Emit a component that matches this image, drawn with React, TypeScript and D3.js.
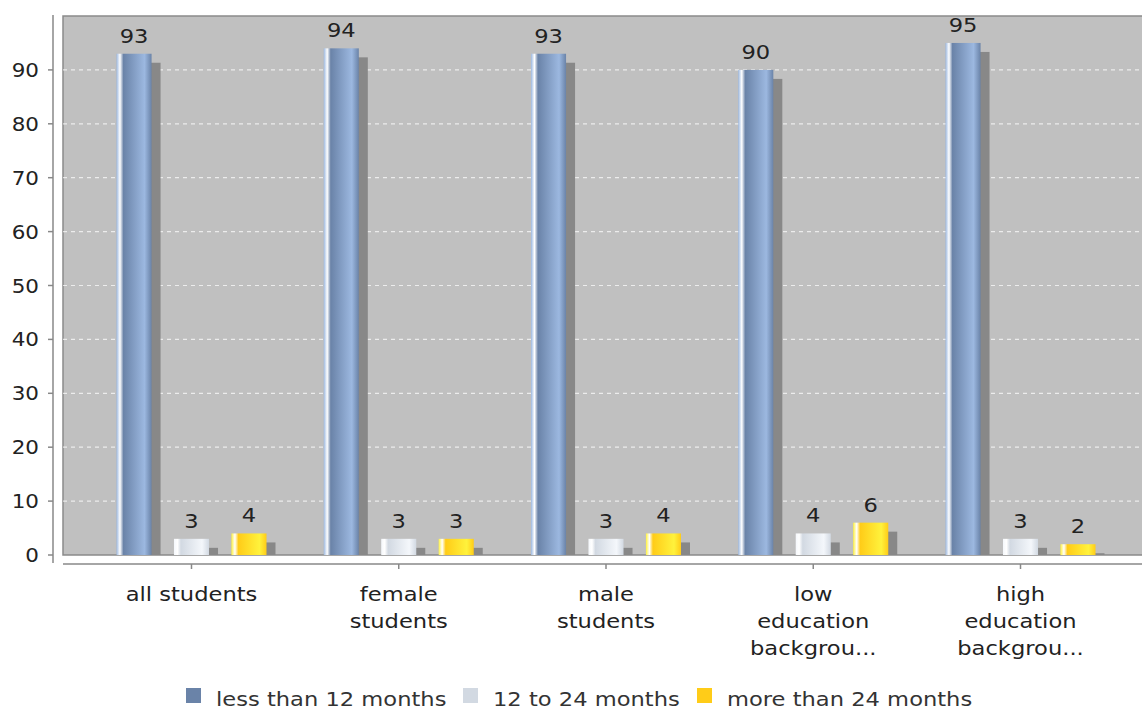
import React from "react";
import * as d3 from "d3";

const categories = ["all students", "female students", "male students", "low education background", "high education background"];
const categoryLines = [["all students"], ["female", "students"], ["male", "students"], ["low", "education", "backgrou..."], ["high", "education", "backgrou..."]];
const seriesNames = ["less than 12 months", "12 to 24 months", "more than 24 months"];
const lessThan12 = [93, 94, 93, 90, 95];
const from12to24 = [3, 3, 3, 4, 3];
const moreThan24 = [4, 3, 4, 6, 2];
const seriesValues = [lessThan12, from12to24, moreThan24];
const yTicks = [0, 10, 20, 30, 40, 50, 60, 70, 80, 90];

const baseColors = ["#6a83a8", "#d2d9e2", "#ffcc18"];
const brightColors = ["#9cb8e0", "#f4f7fb", "#fff23c"];

const W = 1142;
const H = 711;
const plotLeft = 63;
const plotTop = 16;
const plotBottom = 555;
const plotRight = 1149;
const shadow = 9;
const FONT = "DejaVu Sans, sans-serif";
const STRETCH = 1.13;

// text with a slight horizontal stretch, anchored at (x, y)
function Label(props: { x: number; y: number; anchor: "start" | "middle" | "end"; size: number; fill: string; children: React.ReactNode }) {
  return (
    <g transform={`translate(${props.x},${props.y}) scale(${STRETCH},1)`}>
      <text x={0} y={0} textAnchor={props.anchor} fontSize={props.size} fill={props.fill}>
        {props.children}
      </text>
    </g>
  );
}

export default function App() {
  const x = d3.scalePoint<string>().domain(categories).range([plotLeft, plotRight]).padding(0.62);
  const inner = d3.scaleBand<number>().domain([0, 1, 2]).range([-75, 75]).paddingInner(0.39).paddingOuter(0);
  const y = d3.scaleLinear().domain([0, 100]).range([plotBottom, plotTop]);
  const bw = inner.bandwidth();

  const legendX = [186, 463, 697];

  return (
    <svg width={W} height={H} style={{ position: "absolute", left: 0, top: 0, background: "#fff" }} fontFamily={FONT}>
      <defs>
        {baseColors.map((c, i) => (
          <linearGradient key={i} id={`g${i}`} x1="0" x2="1" y1="0" y2="0">
            <stop offset="0" stopColor={brightColors[i]} />
            <stop offset="0.1" stopColor="#ffffff" />
            <stop offset="0.2" stopColor={c} />
            <stop offset="0.8" stopColor={brightColors[i]} />
            <stop offset="1" stopColor={c} />
          </linearGradient>
        ))}
        <clipPath id="plotClip">
          <rect x={plotLeft} y={plotTop} width={W - plotLeft} height={plotBottom - plotTop} />
        </clipPath>
      </defs>

      {/* plot background */}
      <rect x={plotLeft} y={plotTop} width={W - plotLeft + 5} height={plotBottom - plotTop} fill="#c0c0c0" stroke="#8a8a8a" strokeWidth={1.5} />

      {/* grid */}
      {yTicks.filter((t) => t > 0).map((t) => (
        <line key={t} x1={plotLeft} x2={W} y1={y(t)} y2={y(t)} stroke="#ffffff" strokeOpacity={0.7} strokeWidth={1.2} strokeDasharray="4 4" />
      ))}

      {/* bars with drop shadows */}
      <g clipPath="url(#plotClip)">
        {categories.map((cat, ci) =>
          seriesValues.map((vals, si) => {
            const bx = (x(cat) as number) + (inner(si) as number);
            const by = y(vals[ci]);
            return (
              <g key={`${ci}-${si}`}>
                <rect x={bx + shadow} y={by + shadow} width={bw} height={plotBottom - by} fill="#888888" />
                <rect x={bx} y={by} width={bw} height={plotBottom - by} fill={`url(#g${si})`} />
              </g>
            );
          })
        )}
      </g>

      {/* value labels */}
      {categories.map((cat, ci) =>
        seriesValues.map((vals, si) => {
          const cx = (x(cat) as number) + (inner(si) as number) + bw / 2;
          return (
            <Label key={`l${ci}-${si}`} x={cx} y={y(vals[ci]) - 11} anchor="middle" size={20} fill="#222">
              {vals[ci]}
            </Label>
          );
        })
      )}

      {/* y axis */}
      <line x1={53} x2={53} y1={15} y2={563} stroke="#888" strokeWidth={1.5} />
      {yTicks.map((t) => (
        <g key={t}>
          <line x1={48} x2={53} y1={y(t)} y2={y(t)} stroke="#888" strokeWidth={1.5} />
          <Label x={39} y={y(t) + 7} anchor="end" size={19} fill="#222">{t}</Label>
        </g>
      ))}

      {/* x axis */}
      <line x1={plotLeft} x2={W} y1={564} y2={564} stroke="#888" strokeWidth={1.5} />
      {categories.map((cat, ci) => (
        <g key={cat}>
          <line x1={x(cat)} x2={x(cat)} y1={564} y2={569} stroke="#888" strokeWidth={1.5} />
          {categoryLines[ci].map((ln, li) => (
            <Label key={li} x={x(cat) as number} y={601 + li * 27} anchor="middle" size={20} fill="#222">{ln}</Label>
          ))}
        </g>
      ))}

      {/* legend */}
      {seriesNames.map((name, i) => (
        <g key={name}>
          <rect x={legendX[i]} y={688} width={15} height={15} fill={baseColors[i]} />
          <Label x={legendX[i] + 30} y={706} anchor="start" size={20} fill="#333">{name}</Label>
        </g>
      ))}
    </svg>
  );
}
